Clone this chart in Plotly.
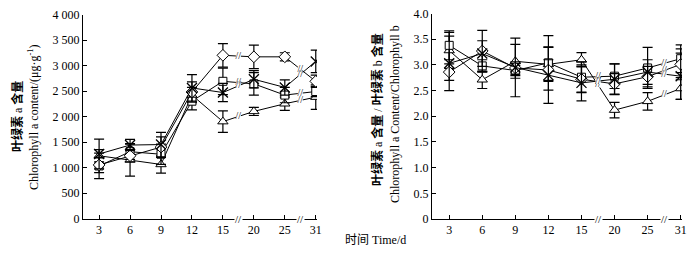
import plotly.graph_objects as go
from plotly.subplots import make_subplots

days = ["3", "6", "9", "12", "15", "20", "25", "31"]

# Chlorophyll a content (μg/g)
diamond_a = [1050, 1230, 1400, 2480, 3200, 3170, 3170, 2690]
square_a = [1030, 1310, 1260, 2300, 2690, 2640, 2420, 2490]
triangle_a = [1230, 1150, 1060, 2420, 1900, 2100, 2250, 2380]
cross_a = [1265, 1440, 1450, 2560, 2470, 2730, 2570, 3080]
err_diamond_a = [150, 120, 200, 200, 230, 230, 80, 120]
err_square_a = [250, 150, 200, 170, 260, 220, 150, 100]
err_triangle_a = [120, 320, 170, 150, 210, 80, 130, 240]
err_cross_a = [290, 110, 240, 260, 180, 170, 150, 220]

# Chlorophyll a / Chlorophyll b
square_r = [3.38, 2.98, 2.89, 3.04, 2.76, 2.78, 2.94, 3.12]
triangle_r = [3.28, 2.71, 3.07, 3.01, 3.10, 2.12, 2.29, 2.54]
diamond_r = [2.86, 3.27, 2.94, 2.90, 2.72, 2.63, 2.77, 3.01]
cross_r = [3.03, 3.22, 2.95, 2.80, 2.65, 2.72, 2.86, 2.78]
err_square_r = [0.28, 0.12, 0.10, 0.53, 0.30, 0.24, 0.40, 0.27]
err_triangle_r = [0.35, 0.17, 0.33, 0.33, 0.14, 0.15, 0.17, 0.21]
err_diamond_r = [0.16, 0.40, 0.12, 0.20, 0.25, 0.20, 0.20, 0.30]
err_cross_r = [0.53, 0.25, 0.57, 0.55, 0.35, 0.30, 0.24, 0.45]

left_ticks = [0, 500, 1000, 1500, 2000, 2500, 3000, 3500, 4000]
left_ticktext = ["0", "500", "1 000", "1 500", "2 000", "2 500", "3 000", "3 500", "4 000"]
right_ticks = [0, 0.5, 1.0, 1.5, 2.0, 2.5, 3.0, 3.5, 4.0]
right_ticktext = ["0", "0.5", "1.0", "1.5", "2.0", "2.5", "3.0", "3.5", "4.0"]
break_after = [4, 6]  # breaks between 15-20 and 25-31

# page body has an 8px default margin; lay out in window pixels
OFF = 8
W, H = 692, 250
def fx(px):
    return (px - OFF) / W
def fy(py):
    return 1 - (py - OFF) / H

SERIF = "Liberation Serif, Times New Roman, Noto Sans CJK SC"
xpos = list(range(len(days)))

fig = make_subplots(rows=1, cols=2)

symbols = {
    "diamond": dict(symbol="diamond", size=9, color="white", line=dict(color="black", width=1)),
    "square": dict(symbol="square", size=8, color="white", line=dict(color="black", width=1)),
    "triangle": dict(symbol="triangle-up", size=9, color="white", line=dict(color="black", width=1)),
    "cross": dict(symbol="x-thin", size=10, color="black", line=dict(color="black", width=1.3)),
}

def add_series(col, vals, errs, key):
    fig.add_trace(go.Scatter(
        x=xpos, y=vals, mode="lines+markers",
        line=dict(color="black", width=1),
        marker=symbols[key],
        error_y=dict(type="data", array=errs, visible=True, color="black", thickness=1.2, width=5),
        showlegend=False, hoverinfo="skip"), row=1, col=col)
    bx = [(xpos[i] + xpos[i + 1]) / 2 for i in break_after]
    by = [(vals[i] + vals[i + 1]) / 2 for i in break_after]
    fig.add_trace(go.Scatter(
        x=bx, y=by, mode="markers+text", text=["//"] * len(bx), textposition="middle center",
        marker=dict(symbol="square", size=5, color="white", line=dict(width=0)),
        textfont=dict(family=SERIF, size=10, color="black"),
        showlegend=False, hoverinfo="skip"), row=1, col=col)

add_series(1, triangle_a, err_triangle_a, "triangle")
add_series(1, square_a, err_square_a, "square")
add_series(1, diamond_a, err_diamond_a, "diamond")
add_series(1, cross_a, err_cross_a, "cross")

add_series(2, triangle_r, err_triangle_r, "triangle")
add_series(2, square_r, err_square_r, "square")
add_series(2, diamond_r, err_diamond_r, "diamond")
add_series(2, cross_r, err_cross_r, "cross")

axis_common = dict(showline=True, linecolor="black", linewidth=1, showgrid=False, zeroline=False,
                   ticks="inside", ticklen=4, tickcolor="black", automargin=False,
                   ticklabeloverflow="allow",
                   tickfont=dict(family=SERIF, size=12, color="black"))

fig.update_xaxes(**axis_common, tickvals=xpos, ticktext=days)
fig.update_xaxes(range=[-0.52, 7.04], domain=[fx(83), fx(317)], row=1, col=1)
fig.update_xaxes(range=[-0.52, 7.04], domain=[fx(432), fx(682)], row=1, col=2)
fig.update_yaxes(**axis_common)
fig.update_yaxes(range=[0, 4000], tickvals=left_ticks, ticktext=left_ticktext,
                 domain=[fy(218.5), fy(14.5)], row=1, col=1)
fig.update_yaxes(range=[0, 4.0], tickvals=right_ticks, ticktext=right_ticktext,
                 domain=[fy(219), fy(13.5)], row=1, col=2)

anns = []
for xr, yr in [("x", "y"), ("x2", "y2")]:
    for i in break_after:
        anns.append(dict(x=(xpos[i] + xpos[i + 1]) / 2, y=0, xref=xr, yref=yr, text="//",
                         showarrow=False, bgcolor="white", borderpad=0,
                         font=dict(family=SERIF, size=11, color="black")))

def paper_text(px, py, text, size=12, angle=0):
    return dict(x=fx(px), y=fy(py), xref="paper", yref="paper", text=text,
                showarrow=False, textangle=angle, xanchor="center", yanchor="middle",
                font=dict(family=SERIF, size=size, color="black"))

anns.append(paper_text(18, 117, "<b>叶绿素</b> a <b>含量</b>", 12, -90))
anns.append(paper_text(34, 118, "Chlorophyll a content/(μg·g<sup>-1</sup>)", 12, -90))
anns.append(paper_text(378, 110, "<b>叶绿素</b> a <b>含量</b> / <b>叶绿素</b> b <b>含量</b>", 12, -90))
anns.append(paper_text(395, 114, "Chlorophyll a Content/Chlorophyll b", 12, -90))
anns.append(paper_text(376, 240, "时间 Time/d", 12, 0))

fig.update_layout(width=W, height=H, margin=dict(l=0, r=0, t=0, b=0),
                  paper_bgcolor="white", plot_bgcolor="white",
                  annotations=anns, showlegend=False)

fig.write_html("out.html")
